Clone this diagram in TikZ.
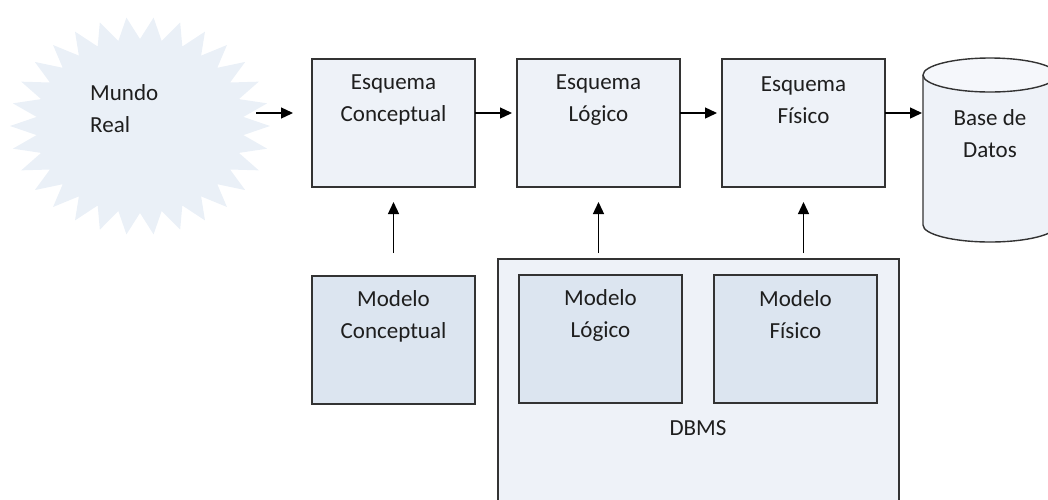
\documentclass[tikz,border=0pt]{standalone}
\usepackage{fontspec}
\setmainfont{Carlito}
\usetikzlibrary{arrows.meta}
\definecolor{boxfill}{HTML}{EEF2F8}
\definecolor{modfill}{HTML}{DCE5F0}
\definecolor{starfill}{HTML}{EAF0F7}
\definecolor{linec}{HTML}{333333}
\definecolor{txtc}{HTML}{1E1E1E}
\begin{document}
\begin{tikzpicture}[x=1pt,y=1pt,
  box/.style={draw=linec, line width=1.4pt, fill=boxfill, minimum width=163pt, minimum height=128pt, inner sep=0pt, outer sep=0pt, anchor=north west},
  modbox/.style={box, fill=modfill},
  txt/.style={font=\fontsize{23}{32}\selectfont, align=center, inner sep=0pt, text=txtc},
  arr/.style={draw=black, line width=1.3pt, -{Triangle[length=12pt,width=11pt]}}
]
\useasboundingbox (0,0) rectangle (1048,-499);
\clip (0,0) rectangle (1048,-499);
% starburst
\coordinate (sc) at (140,-126);
\fill[starfill] (270,-126) \foreach \i in {0,...,29}{ -- ({140+104*cos((2*\i+1)*6)}, {-126+87*sin((2*\i+1)*6)}) -- ({140+130*cos((2*\i+2)*6)}, {-126+109*sin((2*\i+2)*6)}) } -- cycle;
\node[txt, anchor=west, align=left] (mundo) at (90,-109) {Mundo\\Real};
% top boxes
\node[box] (ec) at (312,-59) {};
\node[box] (el) at (517,-59) {};
\node[box] (ef) at (722,-59) {};
\node[txt] (ect) at ([yshift=-41pt]ec.north) {Esquema\\Conceptual};
\node[txt] (elt) at ([yshift=-41pt]el.north) {Esquema\\Lógico};
\node[txt] (eft) at ([yshift=-41pt]ef.north) {Esquema\\Físico};
% cylinder
\fill[boxfill] (923,-75) -- (923,-225) arc[start angle=180,end angle=360,x radius=67,y radius=17] -- (1057,-75) arc[start angle=0,end angle=180,x radius=67,y radius=17] -- cycle;
\draw[linec, line width=1.4pt] (923,-75) -- (923,-225) arc[start angle=180,end angle=360,x radius=67,y radius=17] -- (1057,-75);
\draw[linec, line width=1.4pt, fill=boxfill!60!white] (990,-75) ellipse[x radius=67, y radius=17];
\coordinate (db) at (923,-113);
\node[txt] (dbt) at (990,-134) {Base de\\Datos};
% DBMS
\node[box, minimum width=401pt, minimum height=280pt] (dbms) at (498,-259) {};
\node[modbox] (mc) at (312,-276) {};
\node[modbox] (ml) at (519,-275) {};
\node[modbox] (mf) at (714,-275) {};
\node[txt] (mct) at ([yshift=-40pt]mc.north) {Modelo\\Conceptual};
\node[txt] (mlt) at ([yshift=-40pt]ml.north) {Modelo\\Lógico};
\node[txt] (mft) at ([yshift=-40pt]mf.north) {Modelo\\Físico};
\node[txt] (dbmst) at (698,-428) {DBMS};
% arrows
\coordinate (s) at (256,-113);
\draw[arr, shorten >=19pt] (s) -- (s -| ec.west);
\draw[arr, shorten >=5pt] (ec.east |- s) -- (el.west |- s);
\draw[arr, shorten >=5pt] (el.east |- s) -- (ef.west |- s);
\draw[arr, shorten >=1pt] (ef.east |- s) -- (db);
\draw[arr, shorten <=23pt, shorten >=15pt] (mc.north) -- (ec.south);
\draw[arr, shorten <=6pt, shorten >=15pt] (el.south |- dbms.north) -- (el.south);
\draw[arr, shorten <=6pt, shorten >=15pt] (ef.south |- dbms.north) -- (ef.south);
\end{tikzpicture}
\end{document}
